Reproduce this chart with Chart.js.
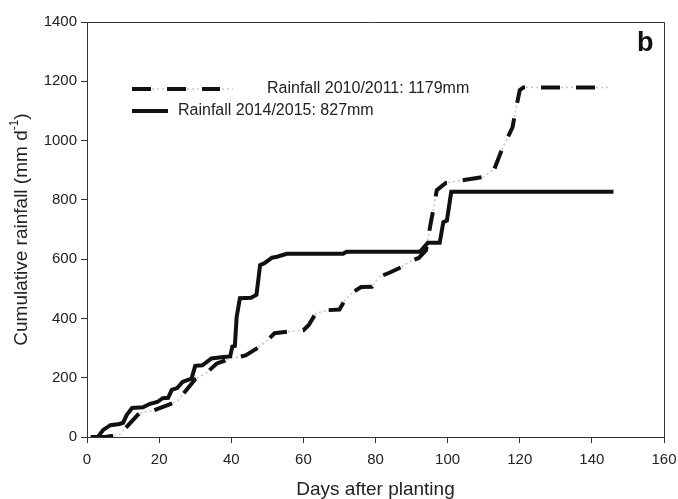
<!DOCTYPE html>
<html><head><meta charset="utf-8">
<script src="https://cdn.jsdelivr.net/npm/chart.js@4"></script>
<style>html,body{margin:0;padding:0;background:#fff}</style>
</head><body>
<canvas id="c" width="678" height="499" style="width:678px;height:499px;display:block"></canvas>
<script>
const xTicks = [0, 20, 40, 60, 80, 100, 120, 140, 160];
const yTicks = [0, 200, 400, 600, 800, 1000, 1200, 1400];

const label2010 = 'Rainfall 2010/2011: 1179mm';
const label2014 = 'Rainfall 2014/2015: 827mm';

const days2010 = [2, 5, 9, 14.5, 18.5, 22, 25, 27, 30, 33, 36, 40, 44, 47, 49.5, 52, 55.5, 60, 61.5, 63.5, 67, 70, 71.5, 74, 76, 79, 81, 84, 87, 89.5, 92, 94, 95, 96, 97, 99.5, 105, 110, 113, 115, 118, 119, 120, 121, 144.5];
const rain2010 = [0, 0, 8, 80, 90, 106, 120, 150, 195, 215, 248, 265, 275, 298, 320, 350, 355, 360, 378, 418, 428, 430, 462, 490, 506, 507, 540, 555, 572, 592, 604, 630, 700, 766, 833, 857, 868, 877, 905, 968, 1045, 1110, 1170, 1179, 1179];

const days2014 = [1, 3, 4.5, 6.5, 9, 10, 11, 12.5, 15.5, 17.5, 19.5, 21, 22.5, 23.5, 25, 26.5, 28, 29, 30, 32, 34.5, 37.8, 39.7, 40.3, 41, 41.5, 42.4, 45.5, 47, 48, 49.4, 51.3, 52.7, 55.4, 71, 72, 92.3, 94.5, 97.8, 98.8, 99.8, 101, 146];
const rain2014 = [0, 0, 24, 40, 44, 48, 74, 98, 100, 112, 118, 131, 132, 159, 165, 186, 193, 197, 240, 242, 265, 270, 272, 305, 307, 405, 468, 470, 480, 580, 588, 605, 608, 618, 618, 625, 625, 655, 655, 725, 730, 827, 827];

const FONT = "'Liberation Sans', Arial, sans-serif";
const toPts = (xs, ys) => xs.map((x, i) => ({x: x, y: ys[i]}));

const GREY = '#c4c4c4';
const BLACK = '#111111';
const AXIS = '#333333';

const decorPlugin = {
  id: 'decor',
  afterDraw(chart) {
    const ctx = chart.ctx;
    const a = chart.chartArea;
    ctx.save();
    ctx.strokeStyle = AXIS;
    ctx.lineWidth = 1;
    ctx.beginPath();
    ctx.moveTo(a.left, a.top + 0.5);
    ctx.lineTo(a.right + 0.5, a.top + 0.5);
    ctx.lineTo(a.right + 0.5, a.bottom);
    ctx.stroke();

    const y1 = 89, y2 = 111;
    ctx.lineCap = 'butt';
    ctx.strokeStyle = GREY; ctx.lineWidth = 1.5; ctx.setLineDash([2, 3]);
    ctx.beginPath(); ctx.moveTo(132, y1); ctx.lineTo(233, y1); ctx.stroke();
    ctx.strokeStyle = BLACK; ctx.lineWidth = 4; ctx.setLineDash([19, 16]);
    ctx.beginPath(); ctx.moveTo(132, y1); ctx.lineTo(220, y1); ctx.stroke();
    ctx.setLineDash([]);
    ctx.beginPath(); ctx.moveTo(132, y2); ctx.lineTo(168, y2); ctx.stroke();
    ctx.fillStyle = '#222';
    ctx.font = '16px ' + FONT;
    ctx.textBaseline = 'middle';
    ctx.textAlign = 'left';
    ctx.fillText(label2010, 267, y1);
    ctx.fillText(label2014, 178, y2);

    ctx.font = 'bold 27px ' + FONT;
    ctx.fillStyle = '#111';
    ctx.fillText('b', 637, 44);

    ctx.translate(22, (a.top + a.bottom) / 2);
    ctx.rotate(-Math.PI / 2);
    const main = 'Cumulative rainfall (mm d';
    const sup = '-1';
    const close = ')';
    ctx.font = '19px ' + FONT;
    const w1 = ctx.measureText(main).width;
    const w3 = ctx.measureText(close).width;
    ctx.font = '12px ' + FONT;
    const w2 = ctx.measureText(sup).width;
    const total = w1 + w2 + w3;
    let x = -total / 2;
    ctx.fillStyle = '#222';
    ctx.font = '19px ' + FONT;
    ctx.fillText(main, x, 0);
    x += w1;
    ctx.font = '12px ' + FONT;
    ctx.fillText(sup, x, -7);
    x += w2;
    ctx.font = '19px ' + FONT;
    ctx.fillText(close, x, 0);
    ctx.restore();
  }
};

new Chart(document.getElementById('c'), {
  type: 'line',
  data: {
    datasets: [
      { label: label2010 + ' (under)', data: toPts(days2010, rain2010), borderColor: GREY, borderWidth: 1.5, borderDash: [2, 3], pointRadius: 0, tension: 0, fill: false, order: 3 },
      { label: label2010, data: toPts(days2010, rain2010), borderColor: BLACK, borderWidth: 4, borderDash: [19, 16], borderCapStyle: 'butt', pointRadius: 0, tension: 0, fill: false, order: 2 },
      { label: label2014, data: toPts(days2014, rain2014), borderColor: BLACK, borderWidth: 4, pointRadius: 0, tension: 0, fill: false, order: 1 }
    ]
  },
  options: {
    responsive: false,
    animation: false,
    devicePixelRatio: 1,
    layout: { padding: { top: 22, right: 14, left: 0, bottom: 0 } },
    plugins: { legend: { display: false }, tooltip: { enabled: false }, title: { display: false } },
    scales: {
      x: {
        type: 'linear', min: 0, max: 160,
        afterBuildTicks: s => { s.ticks = xTicks.map(v => ({value: v})); },
        afterFit: s => { s.height = 62; s.paddingLeft = 0; s.paddingRight = 0; },
        ticks: { color: '#222', font: { family: FONT, size: 15 }, padding: 8, maxRotation: 0, callback: v => String(v) },
        grid: { drawOnChartArea: false, drawTicks: true, tickLength: 6, color: AXIS, lineWidth: 1 },
        border: { display: true, color: AXIS, width: 1 },
        title: { display: true, text: 'Days after planting', color: '#222', font: { family: FONT, size: 19, lineHeight: 0.95 }, padding: { top: 0, bottom: 0 } }
      },
      y: {
        type: 'linear', min: 0, max: 1400,
        afterBuildTicks: s => { s.ticks = yTicks.map(v => ({value: v})); },
        afterFit: s => { s.width = 87; s.paddingTop = 0; s.paddingBottom = 0; },
        ticks: { color: '#222', font: { family: FONT, size: 15 }, padding: 4, callback: v => String(v) },
        grid: { drawOnChartArea: false, drawTicks: true, tickLength: 6, color: AXIS, lineWidth: 1 },
        border: { display: true, color: AXIS, width: 1 }
      }
    }
  },
  plugins: [decorPlugin]
});
</script>
</body></html>
